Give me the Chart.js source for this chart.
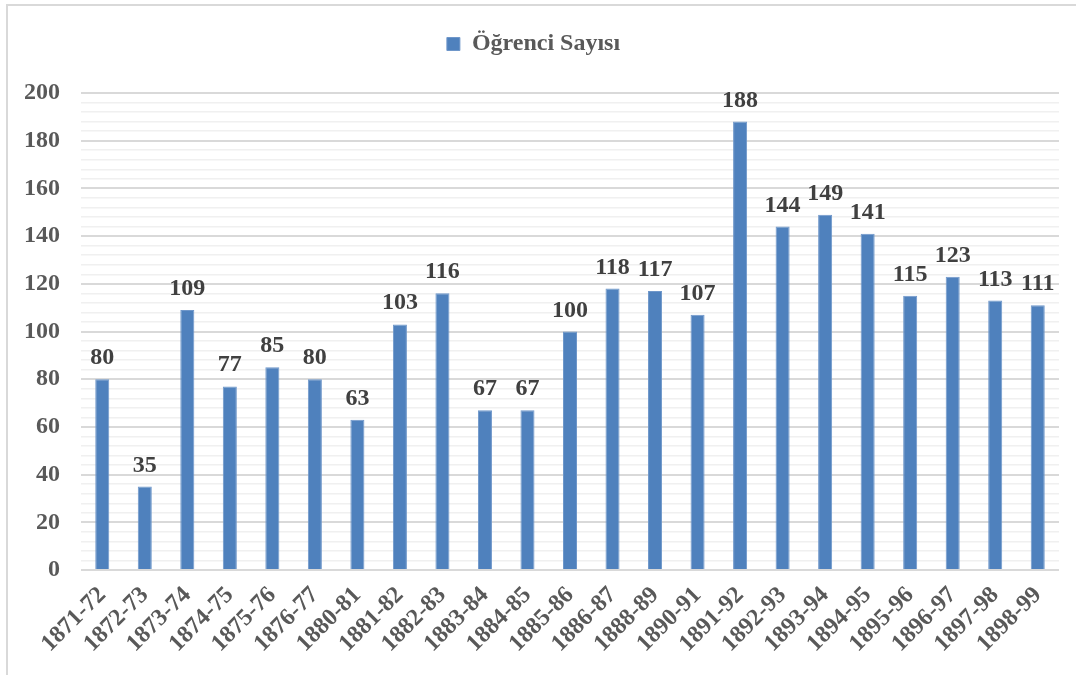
<!DOCTYPE html>
<html>
<head>
<meta charset="utf-8">
<script src="https://cdn.jsdelivr.net/npm/chart.js@4"></script>
<style>
    body { margin: 0; background: #fff; }
    #wrap {
        position: absolute; left: 6px; top: 4px;
        width: 1068px; height: 669px;
        border-top: 2px solid #d9d9d9; border-left: 2px solid #d9d9d9;
    }
</style>
</head>
<body>
<div id="wrap"><canvas id="chart"></canvas></div>
<script>
// dönemler ve öğrenci sayıları
const years = ['1871-72', '1872-73', '1873-74', '1874-75', '1875-76', '1876-77', '1880-81',
    '1881-82', '1882-83', '1883-84', '1884-85', '1885-86', '1886-87', '1888-89', '1890-91',
    '1891-92', '1892-93', '1893-94', '1894-95', '1895-96', '1896-97', '1897-98', '1898-99'];
const students = [80, 35, 109, 77, 85, 80, 63, 103, 116, 67, 67, 100, 118, 117, 107,
    188, 144, 149, 141, 115, 123, 113, 111];
const yTicks = [0, 20, 40, 60, 80, 100, 120, 140, 160, 180, 200];

const serif = '"Liberation Serif", "Times New Roman", serif';

// çubukların üstüne değerleri yaz
const valueLabels = {
    id: 'valueLabels',
    afterDatasetsDraw(chart) {
        const ctx = chart.ctx;
        const meta = chart.getDatasetMeta(0);
        ctx.save();
        ctx.font = 'bold 24px ' + serif;
        ctx.fillStyle = '#404040';
        ctx.textAlign = 'center';
        ctx.textBaseline = 'alphabetic';
        meta.data.forEach(function (bar, i) {
            ctx.fillText(students[i], bar.x, bar.y - 15);
        });
        ctx.restore();
    }
};

// legendin altına boşluk
const legendSpace = {
    id: 'legendSpace',
    beforeInit(chart) {
        const origFit = chart.legend.fit;
        chart.legend.fit = function () {
            origFit.bind(chart.legend)();
            this.height += 27;
        };
    }
};

new Chart(document.getElementById('chart'), {
    type: 'bar',
    data: {
        labels: years,
        datasets: [{
            label: 'Öğrenci Sayısı',
            data: students,
            backgroundColor: '#4f81bd',
            borderColor: '#6f97ca',
            borderWidth: 1,
            barPercentage: 0.33,
            categoryPercentage: 1
        }]
    },
    options: {
        responsive: true,
        maintainAspectRatio: false,
        animation: false,
        layout: { padding: { left: 0, right: 17, top: 0, bottom: 14 } },
        plugins: {
            tooltip: { enabled: false },
            legend: {
                position: 'top',
                labels: {
                    boxWidth: 13,
                    boxHeight: 13,
                    color: '#595959',
                    font: { family: serif, size: 24, weight: 'bold' },
                    padding: 26
                }
            }
        },
        scales: {
            x: {
                grid: { display: false },
                border: { display: false },
                ticks: {
                    color: '#595959',
                    font: { family: serif, size: 24, weight: 'bold' },
                    minRotation: 45,
                    maxRotation: 45,
                    autoSkip: false
                }
            },
            y: {
                min: 0,
                max: 200,
                border: { display: false },
                afterFit: function (scale) { scale.width = 73; },
                grid: {
                    color: function (c) {
                        return yTicks.includes(c.tick.value) ? '#d9d9d9' : '#f0f0f0';
                    },
                    lineWidth: function (c) {
                        return yTicks.includes(c.tick.value) ? 2 : 1.5;
                    },
                    drawTicks: false
                },
                ticks: {
                    stepSize: 4,
                    autoSkip: false,
                    padding: 21,
                    color: '#595959',
                    font: { family: serif, size: 24, weight: 'bold' },
                    callback: function (v) {
                        return yTicks.includes(v) ? v : '';
                    }
                }
            }
        }
    },
    plugins: [valueLabels, legendSpace]
});
</script>
</body>
</html>
